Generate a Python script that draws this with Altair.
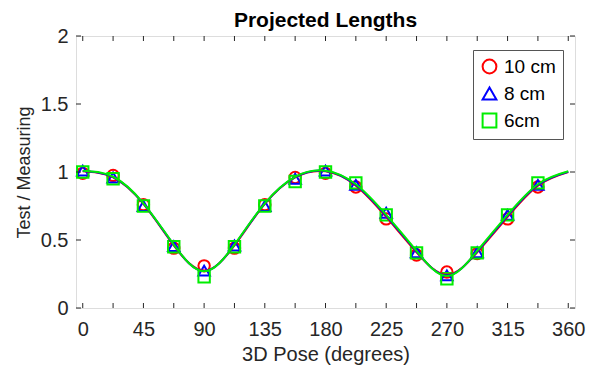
import altair as alt
import pandas as pd

# ---- data ----
series_names = ["10 cm", "8 cm", "6cm"]
series_colors = ["#ff0000", "#0000ff", "#00ee00"]
series_shapes = ["circle", "triangle-up", "square"]

angles = [0, 22.5, 45, 67.5, 90, 112.5, 135, 157.5,
          180, 202.5, 225, 247.5, 270, 292.5, 315, 337.5]
vals_10 = [0.99, 0.975, 0.76, 0.44, 0.31, 0.44, 0.76, 0.96,
           0.99, 0.89, 0.655, 0.39, 0.265, 0.40, 0.655, 0.89]
vals_8 = [1.01, 0.96, 0.75, 0.455, 0.275, 0.46, 0.75, 0.95,
          1.01, 0.905, 0.70, 0.41, 0.24, 0.41, 0.685, 0.905]
vals_6 = [1.00, 0.95, 0.75, 0.45, 0.23, 0.45, 0.75, 0.93,
          1.00, 0.92, 0.685, 0.405, 0.215, 0.405, 0.685, 0.92]

curve_angles = [0, 22.5, 45, 67.5, 90, 112.5, 135, 157.5, 180,
                202.5, 225, 247.5, 270, 292.5, 315, 337.5, 360]
curve_10 = [1.005, 0.96, 0.765, 0.46, 0.275, 0.46, 0.765, 0.96, 1.005,
            0.90, 0.67, 0.41, 0.245, 0.41, 0.67, 0.90, 1.0]
curve_8 = [1.008, 0.962, 0.767, 0.463, 0.272, 0.463, 0.767, 0.962, 1.008,
           0.905, 0.678, 0.415, 0.24, 0.415, 0.678, 0.905, 1.002]
curve_6 = [1.01, 0.965, 0.77, 0.466, 0.27, 0.466, 0.77, 0.965, 1.01,
           0.91, 0.685, 0.42, 0.235, 0.42, 0.685, 0.91, 1.005]

x_ticks = [0, 22.5, 45, 67.5, 90, 112.5, 135, 157.5, 180,
           202.5, 225, 247.5, 270, 292.5, 315, 337.5, 360]
x_labels = [0, 45, 90, 135, 180, 225, 270, 315, 360]
y_ticks = [0, 0.5, 1, 1.5, 2]

# ---- tables ----
pts = pd.concat([
    pd.DataFrame({"angle": angles, "value": v, "series": n, "order": i})
    for i, (n, v) in enumerate(zip(series_names, [vals_10, vals_8, vals_6]))
])
curves = pd.concat([
    pd.DataFrame({"angle": curve_angles, "value": v, "series": n, "hex": c, "order": i})
    for i, (n, v, c) in enumerate(zip(series_names, [curve_10, curve_8, curve_6], series_colors))
])
xt = pd.DataFrame({"angle": x_ticks})
yt = pd.DataFrame({"value": y_ticks})

W, H = 499, 272
FONT = "Liberation Sans"
TXT = "#262626"

xs = alt.Scale(domain=[-5, 365], nice=False, zero=False)
ys = alt.Scale(domain=[0, 2], nice=False)

xaxis = alt.Axis(values=x_labels, title="3D Pose (degrees)", grid=False, ticks=False,
                 domain=False, labelFontSize=20, titleFontSize=20, labelPadding=11,
                 titlePadding=5, labelFont=FONT, titleFont=FONT, labelColor=TXT,
                 titleColor=TXT, titleFontWeight="normal", labelFlush=False)
yaxis = alt.Axis(values=y_ticks, title="Test / Measuring", grid=False, ticks=False,
                 domain=False, labelFontSize=20, titleFontSize=18, labelPadding=8,
                 titlePadding=7, labelFont=FONT, titleFont=FONT, labelColor=TXT,
                 titleColor=TXT, titleFontWeight="normal", labelFlush=False,
                 labelExpr="datum.value == 0 || datum.value == 1 || datum.value == 2 ? format(datum.value, 'd') : format(datum.value, '.1f')")

X = alt.X("angle:Q", scale=xs, axis=xaxis)
Y = alt.Y("value:Q", scale=ys, axis=yaxis)

leg = alt.Legend(title=None, orient="none", legendX=397, legendY=14,
                 fillColor="white", strokeColor="#555555",
                 padding=7, labelFontSize=19, labelFont=FONT,
                 labelColor="black", symbolSize=190,
                 symbolStrokeWidth=2, rowPadding=5, labelOffset=5)

points = alt.Chart(pts).mark_point(filled=False, strokeWidth=2, size=130, opacity=1).encode(
    x=X, y=Y,
    color=alt.Color("series:N", scale=alt.Scale(domain=series_names, range=series_colors),
                    legend=leg),
    shape=alt.Shape("series:N", scale=alt.Scale(domain=series_names, range=series_shapes),
                    legend=leg),
    order=alt.Order("order:Q"),
)

lines = alt.Chart(curves).mark_line(interpolate="natural", strokeWidth=2).encode(
    x=X, y=Y,
    color=alt.Color("hex:N", scale=None),
    detail="series:N",
    order=alt.Order("angle:Q"),
)

tick_b = alt.Chart(xt).mark_rule(color=TXT, strokeWidth=1).encode(
    x=X, y=alt.value(H), y2=alt.value(H - 5))
tick_t = alt.Chart(xt).mark_rule(color=TXT, strokeWidth=1).encode(
    x=X, y=alt.value(0), y2=alt.value(5))
tick_l = alt.Chart(yt).mark_rule(color=TXT, strokeWidth=1).encode(
    y=Y, x=alt.value(0), x2=alt.value(5))
tick_r = alt.Chart(yt).mark_rule(color=TXT, strokeWidth=1).encode(
    y=Y, x=alt.value(W), x2=alt.value(W - 5))

chart = alt.layer(points, lines, tick_b, tick_t, tick_l, tick_r).properties(
    width=W, height=H,
    title=alt.TitleParams("Projected Lengths", fontSize=21, fontWeight="bold", font=FONT,
                          color="black", anchor="middle", offset=6, frame="group", dy=11),
    autosize=alt.AutoSizeParams(type="none"),
    padding={"left": 76, "top": 36, "right": 22, "bottom": 64},
).configure_view(stroke=TXT, strokeWidth=1).configure(background="white")

chart.save("out.html", embed_options={"renderer": "svg", "actions": False})
